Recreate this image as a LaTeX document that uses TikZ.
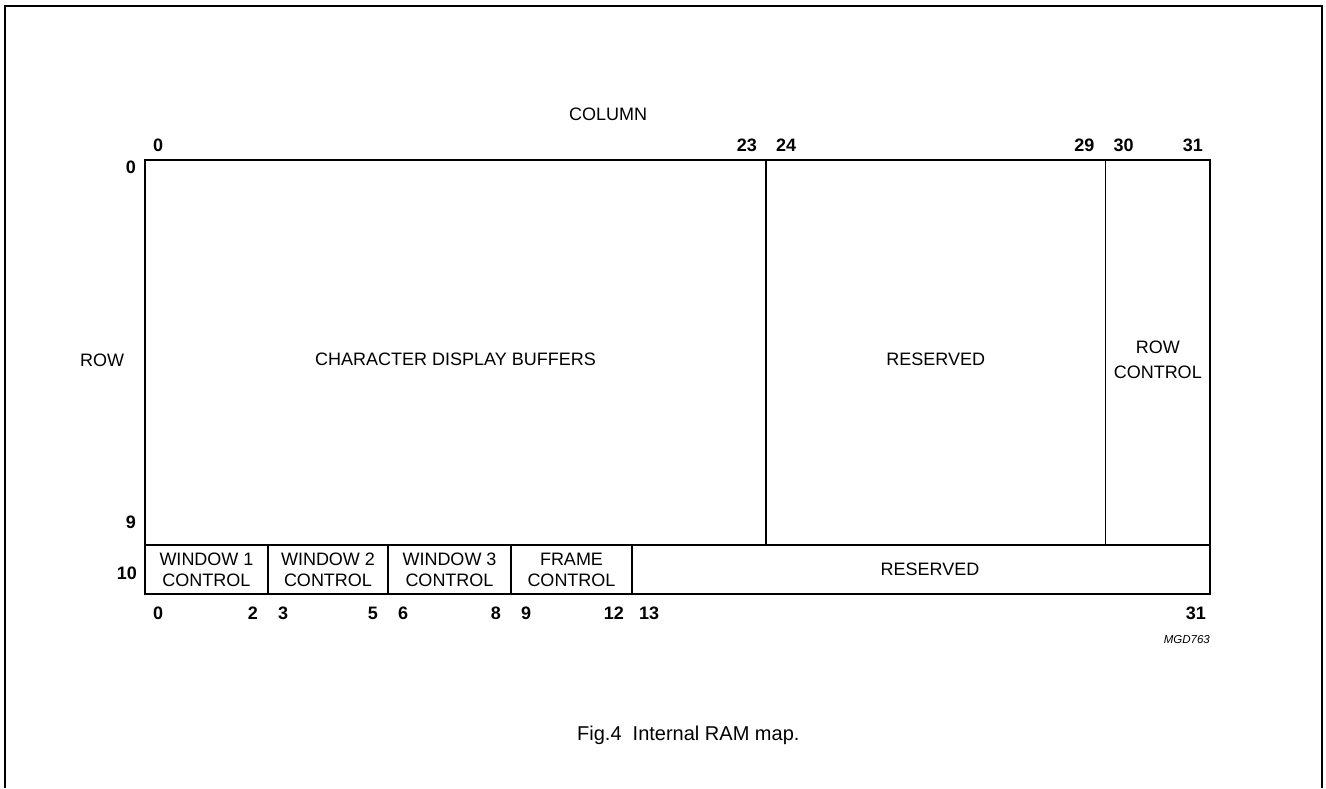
\documentclass[tikz,border=0pt]{standalone}
\usepackage{fontspec}
\setmainfont{Liberation Sans}
\usetikzlibrary{positioning}

\begin{document}
\begin{tikzpicture}[
  x=1pt, y=-1pt,
  font=\fontsize{18}{21}\selectfont,
  cell/.style={draw, line width=1.5pt, outer sep=0pt, inner sep=0pt, align=center, minimum height=385pt, text height=27pt},
  slot/.style={cell, minimum height=49pt, text height=},
  num/.style={font=\fontsize{18}{21}\selectfont\bfseries, inner sep=0pt}
]
  \useasboundingbox (0,0) rectangle (1326,788);

  % Cadre
  \draw[line width=2pt] (4.5,788) -- (4.5,6) -- (1321.5,6) -- (1321.5,788);

  % Lignes 0 a 9
  \node[cell, minimum width=621pt, anchor=north west] (cdb) at (145,160) {CHARACTER DISPLAY BUFFERS};
  \node[cell, minimum width=339.5pt, right=0pt of cdb] (res1) {RESERVED};
  \node[cell, minimum width=104.5pt, right=0pt of res1] (rowctl) {};
  \node[align=center, inner sep=0pt] (rowctltxt) at ([yshift=-7pt]rowctl.center) {ROW\\[4pt]CONTROL};

  % Ligne 10
  \node[slot, minimum width=123pt, anchor=north west] (win1) at (cdb.south west) {WINDOW 1\\CONTROL};
  \node[slot, minimum width=120pt, right=0pt of win1] (win2) {WINDOW 2\\CONTROL};
  \node[slot, minimum width=123pt, right=0pt of win2] (win3) {WINDOW 3\\CONTROL};
  \node[slot, minimum width=121pt, right=0pt of win3] (frm) {FRAME\\CONTROL};
  \node[slot, minimum width=578pt, right=0pt of frm] (res2) {\hspace*{18pt}RESERVED};

  % Titres des axes
  \node (column) at (608,114) {COLUMN};
  \node (row) at (102,360) {ROW};

  % Numeros de colonne (haut)
  \node[num, anchor=south west] (top0) at ([xshift=8pt, yshift=8pt]cdb.north west) {0};
  \node[num, anchor=south east] (top23) at ([xshift=-9pt, yshift=8pt]cdb.north east) {23};
  \node[num, anchor=south west] (top24) at ([xshift=10pt, yshift=8pt]res1.north west) {24};
  \node[num, anchor=south east] (top29) at ([xshift=-11pt, yshift=8pt]res1.north east) {29};
  \node[num, anchor=south west] (top30) at ([xshift=8pt, yshift=8pt]rowctl.north west) {30};
  \node[num, anchor=south east] (top31) at ([xshift=-7pt, yshift=8pt]rowctl.north east) {31};

  % Numeros de ligne
  \node[num, anchor=north east] (row0) at ([xshift=-9pt, yshift=-1pt]cdb.north west) {0};
  \node[num, anchor=south east] (row9) at ([xshift=-9pt, yshift=16pt]cdb.south west) {9};
  \node[num, anchor=east] (row10) at ([xshift=-8pt, yshift=-4pt]win1.west) {10};

  % Numeros de colonne (bas)
  \node[num, anchor=north west] (bot0) at ([xshift=8pt, yshift=-13pt]win1.south west) {0};
  \node[num, anchor=north east] (bot2) at ([xshift=-10pt, yshift=-13pt]win1.south east) {2};
  \node[num, anchor=north west] (bot3) at ([xshift=10pt, yshift=-13pt]win2.south west) {3};
  \node[num, anchor=north east] (bot5) at ([xshift=-10pt, yshift=-13pt]win2.south east) {5};
  \node[num, anchor=north west] (bot6) at ([xshift=10pt, yshift=-13pt]win3.south west) {6};
  \node[num, anchor=north east] (bot8) at ([xshift=-10pt, yshift=-13pt]win3.south east) {8};
  \node[num, anchor=north west] (bot9) at ([xshift=10pt, yshift=-13pt]frm.south west) {9};
  \node[num, anchor=north east] (bot12) at ([xshift=-8pt, yshift=-13pt]frm.south east) {12};
  \node[num, anchor=north west] (bot13) at ([xshift=7pt, yshift=-13pt]res2.south west) {13};
  \node[num, anchor=north east] (bot31) at ([xshift=-4pt, yshift=-13pt]res2.south east) {31};

  % Reference et legende
  \node[font=\fontsize{11.5}{13}\selectfont\itshape, inner sep=0pt, anchor=east] (ref) at ([yshift=-46pt]res2.south east) {MGD763};
  \node[font=\fontsize{20}{23}\selectfont, anchor=east] (caption) at (803,735) {Fig.4\ \ Internal RAM map.};

\end{tikzpicture}
\end{document}
